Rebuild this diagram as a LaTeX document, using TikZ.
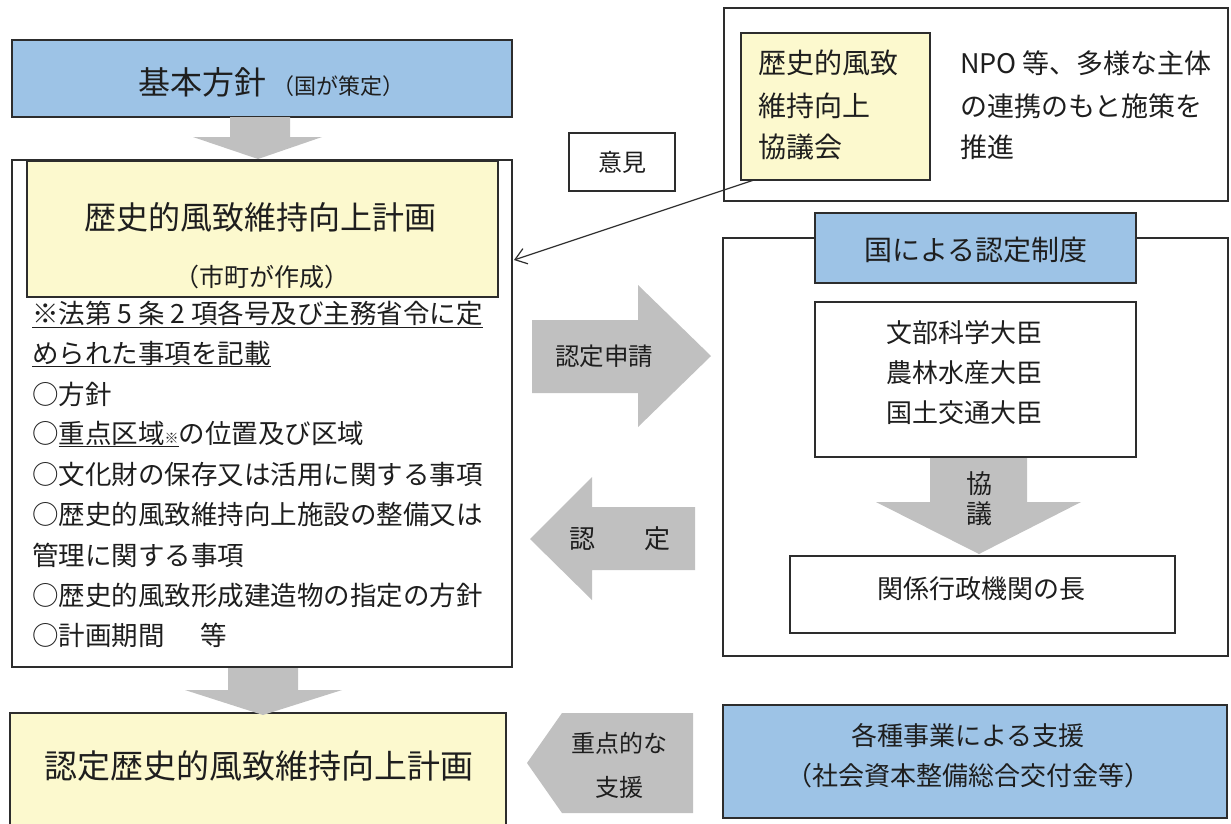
\documentclass[tikz,border=0pt]{standalone}
\usepackage{fontspec}
\setmainfont{Noto Sans CJK JP}
\usetikzlibrary{arrows.meta}
\definecolor{bluefill}{RGB}{157,195,230}
\definecolor{yellowfill}{RGB}{252,249,206}
\definecolor{arrowgray}{RGB}{192,192,192}
\definecolor{edgecol}{RGB}{45,45,45}
\definecolor{inkcol}{RGB}{30,30,30}
\newcommand{\fsz}[1]{\fontsize{#1}{#1}\selectfont}
\begin{document}
\begin{tikzpicture}[x=1pt,y=-1pt,
  frame/.style={draw=edgecol, line width=1.6pt, inner sep=0pt, outer sep=0pt},
  bluebox/.style={frame, fill=bluefill},
  yellowbox/.style={frame, fill=yellowfill},
  whitebox/.style={frame, fill=white},
  thinbox/.style={draw=edgecol, line width=1.1pt, inner sep=0pt, outer sep=0pt, fill=white},
  blockarrow/.style={fill=arrowgray, draw=none},
  txt/.style={inner sep=0pt, outer sep=0pt, text=inkcol},
  item/.style={txt, anchor=west, font=\fsz{26.5}},
]
\useasboundingbox (0,0) rectangle (1231,823);
\clip (0,0) rectangle (1231,823);
\fill[white] (0,0) rectangle (1231,823);

% ---------- left column ----------
\node[bluebox, minimum width=500pt, minimum height=77pt] (kihon) at (262,78.5) {};
\node[txt] (kihonT) at (271,82) {{\fsz{32}基本方針}\hspace{6pt}{\fsz{22}（国が策定）}};

\node[whitebox, minimum width=500pt, minimum height=507pt] (main) at (262,413.5) {};
\node[yellowbox, minimum width=471pt, minimum height=136pt] (plan) at (262.5,229) {};
\node[txt, font=\fsz{32}] (planT) at (260,217) {歴史的風致維持向上計画};
\node[txt, font=\fsz{25}] (planS) at (262,277) {（市町が作成）};

\node[item] (l1) at (32,314) {\underline{※法第 5 条 2 項各号及び主務省令に定}};
\node[item] (l2) at (32,354) {\underline{められた事項を記載}};
\node[item] (l3) at (32,394) {○方針};
\node[item] (l4) at (32,434) {○\underline{重点区域{\fsz{14}※}}の位置及び区域};
\node[item] (l5) at (32,474) {○文化財の保存又は活用に関する事項};
\node[item] (l6) at (32,514) {○歴史的風致維持向上施設の整備又は};
\node[item] (l7) at (32,555) {管理に関する事項};
\node[item] (l8) at (32,595) {○歴史的風致形成建造物の指定の方針};
\node[item] (l9) at (32,635) {○計画期間\hspace{36pt}等};

\node[yellowbox, minimum width=496pt, minimum height=118pt] (nintei) at (258,772) {};
\node[txt, font=\fsz{33}] (ninteiT) at (259,766) {認定歴史的風致維持向上計画};

% vertical block arrows
\fill[blockarrow] (230,117) -- (290,117) -- (290,137) -- (322,137) -- (258,159)
  -- (193,137) -- (230,137) -- cycle;
\fill[blockarrow] (228,668) -- (298,668) -- (298,690) -- (342,690) -- (263,715)
  -- (185,690) -- (228,690) -- cycle;

% ---------- middle ----------
\node[thinbox, minimum width=106pt, minimum height=58pt] (iken) at (622,162) {};
\node[txt, font=\fsz{24}] (ikenT) at (622,162) {意見};

\fill[blockarrow] (532,320) -- (638,320) -- (638,285) -- (711,356) -- (638,427)
  -- (638,393) -- (532,393) -- cycle;
\node[txt, font=\fsz{24.5}] (shinsei) at (604,356) {認定申請};

\fill[blockarrow] (530,539) -- (592,477) -- (592,507) -- (695,507) -- (695,570)
  -- (592,570) -- (592,600) -- cycle;
\node[txt, font=\fsz{26}] (nin) at (582,539) {認};
\node[txt, font=\fsz{26}] (tei) at (657,539) {定};

\fill[blockarrow] (527,763) -- (562,713) -- (693,713) -- (693,813) -- (562,813) -- cycle;
\node[txt, font=\fsz{24}] (juten1) at (619,743) {重点的な};
\node[txt, font=\fsz{24}] (juten2) at (619,787) {支援};

% ---------- right column ----------
\node[whitebox, minimum width=504pt, minimum height=193pt] (npo) at (976,104.5) {};
\node[yellowbox, minimum width=189pt, minimum height=147pt] (kyogikai) at (835.5,106.5) {};
\node[txt, font=\fsz{28}, anchor=west] (k1) at (758,63) {歴史的風致};
\node[txt, font=\fsz{28}, anchor=west] (k2) at (758,106) {維持向上};
\node[txt, font=\fsz{28}, anchor=west] (k3) at (758,147) {協議会};
\node[txt, font=\fsz{27}, anchor=west] (n1) at (960,63) {NPO 等、多様な主体};
\node[txt, font=\fsz{27}, anchor=west] (n2) at (960,106) {の連携のもと施策を};
\node[txt, font=\fsz{27}, anchor=west] (n3) at (960,147) {推進};

\coordinate (ikenend) at (514,260);
\draw[edgecol, line width=1.2pt, -{Straight Barb[length=11pt,width=16pt,line width=1.2pt]}]
  ([xshift=13pt]kyogikai.south west) -- (ikenend);

\node[whitebox, minimum width=505pt, minimum height=418pt] (seido) at (975.5,447) {};
\node[bluebox, minimum width=321pt, minimum height=70pt] (seidoT) at (975.5,248) {};
\node[txt, font=\fsz{28}] (seidoTT) at (976,250) {国による認定制度};

\node[whitebox, minimum width=321pt, minimum height=155pt] (daijin) at (975.5,379.5) {};
\node[txt, font=\fsz{26}] (d1) at (964,333) {文部科学大臣};
\node[txt, font=\fsz{26}] (d2) at (964,373) {農林水産大臣};
\node[txt, font=\fsz{26}] (d3) at (964,413) {国土交通大臣};

\node[whitebox, minimum width=385pt, minimum height=77pt] (kankei) at (982.5,594.5) {};
\node[txt, font=\fsz{26}] (kankeiT) at (981,589) {関係行政機関の長};

\fill[blockarrow] (930,458) -- (1027,458) -- (1027,502) -- (1081,502) -- (979,554)
  -- (876,502) -- (930,502) -- cycle;
\node[txt, font=\fsz{26}] (kyo) at (979,484) {協};
\node[txt, font=\fsz{26}] (gi) at (979,514) {議};

\node[bluebox, minimum width=504pt, minimum height=113pt] (shien) at (975,761.5) {};
\node[txt, font=\fsz{26}] (shien1) at (968,736) {各種事業による支援};
\node[txt, font=\fsz{26}] (shien2) at (968,776) {（社会資本整備総合交付金等）};
\end{tikzpicture}
\end{document}
